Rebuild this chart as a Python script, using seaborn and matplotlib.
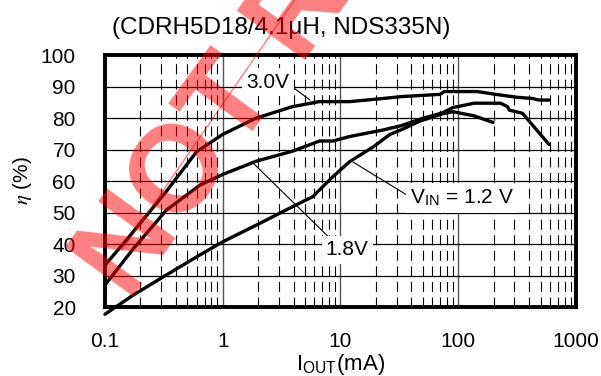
import pandas as pd
import matplotlib
matplotlib.use("Agg")
import matplotlib.pyplot as plt
import seaborn as sns
from matplotlib.ticker import LogLocator, FixedLocator, FixedFormatter, NullFormatter
from matplotlib.lines import Line2D

# ------------------ data ------------------
i_30 = [0.1, 0.15, 0.33, 0.6, 1.0, 1.9, 3.9, 6.6, 12, 23, 33, 70, 76, 145, 200, 310, 426, 486, 590]
eta_30 = [33.3, 41.0, 56.6, 69.3, 74.8, 79.9, 83.6, 85.2, 85.2, 86.2, 86.8, 87.5, 88.4, 88.4, 87.6, 86.6, 86.2, 85.7, 85.7]

i_18 = [0.1, 0.174, 0.333, 0.64, 1.0, 1.93, 3.94, 6.64, 8.6, 11.9, 23, 33, 47, 73, 90, 136, 229, 262, 272, 351, 426, 590]
eta_18 = [27.0, 38.5, 50.8, 58.7, 62.1, 66.3, 69.5, 72.7, 72.7, 74.1, 76.2, 77.6, 79.6, 81.6, 83.3, 84.7, 84.7, 83.6, 82.5, 81.5, 77.8, 71.6]

i_12 = [0.1, 0.174, 0.333, 0.638, 1.0, 1.93, 3.94, 5.8, 8.3, 11.9, 19.1, 26.3, 33, 47, 73, 90, 136, 197]
eta_12 = [17.7, 23.8, 30.2, 36.5, 40.7, 46.0, 51.9, 55.0, 60.8, 66.1, 70.9, 74.8, 76.3, 79.0, 81.3, 82.0, 80.7, 78.6]

x_ticks = [0.1, 1, 10, 100, 1000]
x_labels = ["0.1", "1", "10", "100", "1000"]
y_ticks = [20, 30, 40, 50, 60, 70, 80, 90, 100]

df = pd.concat([
    pd.DataFrame({"iout": i_30, "eta": eta_30, "vin": "3.0V"}),
    pd.DataFrame({"iout": i_18, "eta": eta_18, "vin": "1.8V"}),
    pd.DataFrame({"iout": i_12, "eta": eta_12, "vin": "1.2V"}),
])

# ------------------ style ------------------
sns.set_style("white")
plt.rcParams["font.family"] = ["Liberation Sans", "DejaVu Sans"]
plt.rcParams["mathtext.fontset"] = "stix"
plt.rcParams["text.color"] = "black"
plt.rcParams["axes.labelcolor"] = "black"
plt.rcParams["xtick.color"] = "black"
plt.rcParams["ytick.color"] = "black"
FS = 15

fig = plt.figure(figsize=(6.01, 3.76), dpi=100)
ax = fig.add_axes([0.1747, 0.1835, 0.7837, 0.6702])

sns.lineplot(data=df, x="iout", y="eta", hue="vin", palette=["black"] * 3,
             estimator=None, legend=False, linewidth=2.4, ax=ax, zorder=3)
for ln in ax.lines:
    ln.set_clip_on(False)

ax.set_xscale("log")
ax.set_xlim(0.1, 1000)
ax.set_ylim(20, 100)

# grid: solid horizontals, grey decade lines, dashed minor verticals
ax.xaxis.set_major_locator(FixedLocator(x_ticks))
ax.xaxis.set_major_formatter(FixedFormatter(x_labels))
ax.xaxis.set_minor_locator(LogLocator(base=10, subs=range(2, 10)))
ax.xaxis.set_minor_formatter(NullFormatter())
ax.yaxis.set_major_locator(FixedLocator(y_ticks))
ax.grid(True, axis="y", which="major", color="black", linewidth=0.9)
ax.grid(True, axis="x", which="major", color="#555555", linewidth=1.0)
ax.grid(True, axis="x", which="minor", color="black", linewidth=0.8, linestyle=(0, (9, 5)))
ax.set_axisbelow(True)

for s in ax.spines.values():
    s.set_linewidth(2.8)
    s.set_color("black")

ax.tick_params(axis="both", which="both", length=0, labelsize=FS, labelcolor="black")
ax.tick_params(axis="x", pad=18)
ax.tick_params(axis="y", pad=21)

ax.set_xlabel(r"I$_{\mathregular{OUT}}$(mA)", fontsize=FS + 1)
ax.set_ylabel(r"$\eta$ (%)", fontsize=FS)
ax.xaxis.set_label_coords(0.5, -0.18)
ax.yaxis.set_label_coords(-0.15, 0.5)

fig.text(0.468, 0.926, "(CDRH5D18/4.1\u03bcH, NDS335N)", fontsize=17.5,
         ha="center", va="center")

# curve labels with leader lines
box = dict(facecolor="white", edgecolor="none", pad=3)
arrow = dict(arrowstyle="-", color="black", linewidth=0.8, shrinkA=0, shrinkB=0)
ax.annotate("3.0V", xy=(5.5, 85.7), xytext=(3.7, 91.4), ha="right", va="center",
            fontsize=FS, bbox=box, zorder=5,
            arrowprops=dict(arrow, relpos=(1.0, 0.35)))
ax.annotate("1.8V", xy=(1.81, 65.7), xytext=(11.4, 38.1), ha="center", va="center",
            fontsize=FS, bbox=box, zorder=5,
            arrowprops=dict(arrow, relpos=(0.15, 1.0)))
ax.annotate(r"V$_{\mathregular{IN}}$ = 1.2 V", xy=(12.8, 66.0), xytext=(39, 54.6),
            ha="left", va="center", fontsize=FS, bbox=box, zorder=5,
            arrowprops=dict(arrow, relpos=(0.0, 0.55)))

# watermark
fig.text(0.172, 0.245, "NOT RECOMMENDED", rotation=54,
         rotation_mode="anchor", ha="left", va="center", fontsize=88,
         fontweight="bold", color="red", alpha=0.5, zorder=10)
fig.add_artist(Line2D([0.203, 0.49], [0.335, 1.0], transform=fig.transFigure,
                      color="red", alpha=0.5, linewidth=1.0, zorder=10))

fig.savefig("out.png", dpi=100)
